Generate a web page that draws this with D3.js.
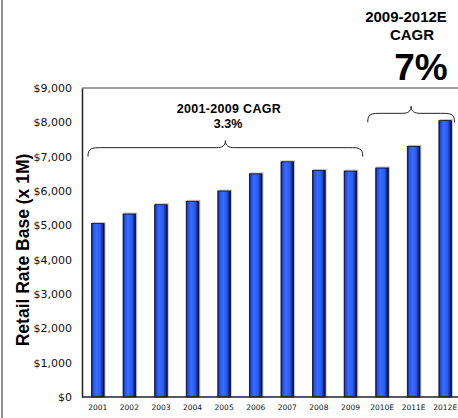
<!DOCTYPE html>
<html>
<head>
<meta charset="utf-8">
<script src="https://cdn.jsdelivr.net/npm/d3@7"></script>
<style>
  html, body { margin: 0; padding: 0; background: #fff; }
  svg { display: block; }
</style>
</head>
<body>
<svg id="chart" width="458" height="418"></svg>
<script>
// Retail rate base by year, $ millions (E = estimate)
const years = ["2001", "2002", "2003", "2004", "2005", "2006", "2007", "2008", "2009", "2010E", "2011E", "2012E"];
const rateBase = [5050, 5330, 5600, 5700, 6000, 6500, 6850, 6600, 6580, 6670, 7300, 8050];
const yTicks = [0, 1000, 2000, 3000, 4000, 5000, 6000, 7000, 8000, 9000];

// Growth annotations: span of years, brace height (data units), label lines
const cagrSpans = [
  { from: "2001", to: "2009", level: 7000, lines: ["2001-2009 CAGR", "3.3%"] },
  { from: "2010E", to: "2012E", level: 8000, lines: ["2009-2012E", "CAGR", "7%"] }
];

const svg = d3.select("#chart");
const plotLeft = 82, plotRight = 461, plotTop = 88, plotBottom = 397;

const x = d3.scaleBand().domain(years).range([plotLeft, plotRight]).paddingInner(0.6).paddingOuter(0.3);
const y = d3.scaleLinear().domain([0, 9000]).range([plotBottom, plotTop]);

// Cylinder-style shading for the bars
const defs = svg.append("defs");
const grad = defs.append("linearGradient").attr("id", "barGrad").attr("x1", "0").attr("x2", "1").attr("y1", "0").attr("y2", "0");
[["0%", "#0b1a70"], ["14%", "#2150e6"], ["38%", "#3a6cff"], ["70%", "#2a5af0"], ["86%", "#15309a"], ["100%", "#050c30"]]
  .forEach(([o, c]) => grad.append("stop").attr("offset", o).attr("stop-color", c));

// Outer frame line on the left edge
svg.append("line").attr("x1", 2).attr("x2", 2).attr("y1", 0).attr("y2", 418)
  .attr("stroke", "#6d6d6d").attr("stroke-width", 1.5);

// Plot top border
svg.append("line").attr("x1", plotLeft).attr("x2", 458).attr("y1", plotTop).attr("y2", plotTop)
  .attr("stroke", "#808080").attr("stroke-width", 1.5);

// Bars: soft shadow then shaded body
const data = years.map((d, i) => ({ year: d, value: rateBase[i] }));
svg.append("g").selectAll("rect").data(data).join("rect")
  .attr("x", d => x(d.year) + 0.5)
  .attr("y", d => y(d.value) - 1.5)
  .attr("width", x.bandwidth() + 1)
  .attr("height", d => plotBottom - y(d.value) + 1.5)
  .attr("fill", "#c4c4c4");
svg.append("g").selectAll("rect").data(data).join("rect")
  .attr("x", d => x(d.year))
  .attr("y", d => y(d.value))
  .attr("width", x.bandwidth())
  .attr("height", d => plotBottom - y(d.value))
  .attr("fill", "url(#barGrad)")
  .attr("stroke", "#0a0a1a").attr("stroke-width", 0.8);

// Y axis
const yAxis = svg.append("g").attr("transform", `translate(${plotLeft},0)`)
  .call(d3.axisLeft(y).tickValues(yTicks).tickSize(0).tickPadding(10)
    .tickFormat(d => "$" + d3.format(",")(d)));
yAxis.select(".domain").attr("stroke", "#222").attr("stroke-width", 1.5);
yAxis.selectAll("text").attr("font-family", "DejaVu Sans, sans-serif").attr("font-size", 11).attr("fill", "#111");

// X axis
const xAxis = svg.append("g").attr("transform", `translate(0,${plotBottom})`)
  .call(d3.axisBottom(x).tickSize(0).tickPadding(8));
xAxis.select(".domain").attr("d", `M${plotLeft},0H458`).attr("stroke", "#222").attr("stroke-width", 1.5);
xAxis.selectAll("text").attr("font-family", "DejaVu Sans, sans-serif").attr("font-size", 7.5).attr("fill", "#111");

// Axis title
svg.append("text")
  .attr("transform", "translate(29,250) rotate(-90)")
  .attr("text-anchor", "middle")
  .attr("font-family", "Liberation Sans, Arial, sans-serif").attr("font-weight", "bold").attr("font-size", 17.5)
  .text("Retail Rate Base (x 1M)");

// Curly brace over a span of bars
function bracePath(x0, x1, yEnd) {
  const yMid = yEnd - 9, yTip = yEnd - 16, xm = (x0 + x1) / 2;
  return `M${x0},${yEnd} C${x0},${yMid} ${x0 + 4},${yMid} ${x0 + 14},${yMid}` +
    ` H${xm - 9} C${xm - 3},${yMid} ${xm},${yMid - 2} ${xm},${yTip}` +
    ` C${xm},${yMid - 2} ${xm + 3},${yMid} ${xm + 9},${yMid}` +
    ` H${x1 - 14} C${x1 - 4},${yMid} ${x1},${yMid} ${x1},${yEnd}`;
}

const s1 = cagrSpans[0], s2 = cagrSpans[1];
const b1x0 = x(s1.from) - 3.5, b1x1 = x(s1.to) + x.bandwidth() + 6;
const b2x0 = x(s2.from) - 8, b2x1 = x(s2.to) + x.bandwidth() + 3;
svg.append("path").attr("d", bracePath(b1x0, b1x1, y(s1.level)))
  .attr("fill", "none").attr("stroke", "#222").attr("stroke-width", 1);
svg.append("path").attr("d", bracePath(b2x0, b2x1, y(s2.level)))
  .attr("fill", "none").attr("stroke", "#222").attr("stroke-width", 1);

// CAGR labels
const bold = sel => sel.attr("font-family", "Liberation Sans, Arial, sans-serif").attr("font-weight", "bold").attr("fill", "#000");
svg.append("text").call(bold).attr("x", 229).attr("y", 112.5).attr("text-anchor", "middle")
  .attr("font-size", 12.5).attr("letter-spacing", 0.3).text(s1.lines[0]);
svg.append("text").call(bold).attr("x", 228).attr("y", 127.5).attr("text-anchor", "middle")
  .attr("font-size", 12.5).text(s1.lines[1]);

svg.append("text").call(bold).attr("x", 406).attr("y", 22).attr("text-anchor", "middle")
  .attr("font-size", 15).text(s2.lines[0]);
svg.append("text").call(bold).attr("x", 412).attr("y", 40).attr("text-anchor", "middle")
  .attr("font-size", 15).text(s2.lines[1]);
svg.append("text").call(bold).attr("x", 421).attr("y", 80).attr("text-anchor", "middle")
  .attr("font-size", 37).text(s2.lines[2]);
</script>
</body>
</html>
